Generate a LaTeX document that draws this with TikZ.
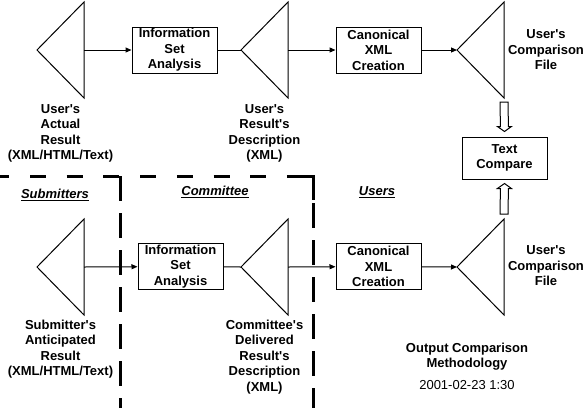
\documentclass[tikz,border=0pt]{standalone}
\usepackage{fontspec}
\setmainfont{Liberation Sans}[Ligatures=TeXOff]
\usetikzlibrary{positioning,calc,arrows.meta}
\newcommand{\diagfont}{\fontsize{13}{15.5}\selectfont}
\tikzset{proc/.style={draw,inner sep=0pt,minimum width=85pt,minimum height=46pt,align=center,font=\diagfont\bfseries},
	 lbl/.style={align=center,inner sep=0pt,font=\diagfont\bfseries},
	 region/.style={inner sep=0pt,font=\diagfont\bfseries\itshape},
	 flow/.style={-{Triangle[length=6pt,width=5pt]}},
	 hollow/.style={draw,fill=white},
	 laneh/.style={line width=3pt,dash pattern=on 16pt off 20.7pt,dash phase=6.7pt},
	 lanev/.style={line width=3pt,dash pattern=on 25pt off 12pt}
	 }
% triangle "document" symbol: apex coordinate #1, right side #1r, corners #1t, #1b
\newcommand{\doctri}[3]{\coordinate (#1) at (#2,#3);
	\coordinate (#1r) at ($(#1)+(47,0)$); \coordinate (#1t) at ($(#1)+(47,-48)$); \coordinate (#1b) at ($(#1)+(47,48)$);
	\draw (#1) -- (#1t) -- (#1b) -- cycle;}
\newcommand{\hollowarrow}[2]{\draw[hollow] ($(#1)+(-4,0)$) -- ($(#2)!5pt!(#1)+(-4,0)$) -- ($(#2)!5pt!(#1)+(-7,0)$) -- (#2)
	-- ($(#2)!5pt!(#1)+(7,0)$) -- ($(#2)!5pt!(#1)+(4,0)$) -- ($(#1)+(4,0)$) -- cycle;}

\begin{document}
\begin{tikzpicture}[x=1pt,y=-1pt,line width=1pt] % output comparison methodology
	\useasboundingbox (0,0) rectangle (588,408);
	% users' row
	\doctri{uar}{37}{50}
	\node[proc] (isa1) at (174.5,50) {Information\\Set\\Analysis};
	\doctri{urd}{241}{50}
	\node[proc] (cxc1) at (378.5,50) {Canonical\\XML\\Creation};
	\doctri{ucf1}{457}{50}
	\draw[flow] (uarr) to (isa1); \draw (isa1) to (urd);
	\draw[flow] (urdr) to (cxc1); \draw[flow] (cxc1) to (ucf1);
	\node[lbl,anchor=north] (uarl) at (60.5,104) {User's\\Actual\\Result\\(XML/HTML/Text)};
	\node[lbl,anchor=north] (urdl) at (264.5,104) {User's\\Result's\\Description\\(XML)};
	\node[lbl] (ucf1l) at (546,50) {User's\\Comparison\\File};
	% comparison
	\node[proc,minimum height=42pt] (cmp) at (504.5,158) {Text\\Compare};
	% submitters' and committee's row
	\doctri{sar}{37}{267}
	\node[proc] (isa2) at (180.5,266.5) {Information\\Set\\Analysis};
	\doctri{cdr}{241}{267}
	\node[proc] (cxc2) at (378.5,266.5) {Canonical\\XML\\Creation};
	\doctri{ucf2}{457}{267}
	\draw[flow] (sarr) to (isa2); \draw (isa2) to (cdr);
	\draw[flow] (cdrr) to (cxc2); \draw[flow] (cxc2) to (ucf2);
	\node[lbl,anchor=north] (sarl) at (60.5,319.5) {Submitter's\\Anticipated\\Result\\(XML/HTML/Text)};
	\node[lbl,anchor=north] (cdrl) at (264.5,319.5) {Committee's\\Delivered\\Result's\\Description\\(XML)};
	\node[lbl] (ucf2l) at (546,266) {User's\\Comparison\\File};
	\coordinate (ha1) at ($(ucf1b)+(0,4)$); \coordinate (ha1tip) at ($(cmp.north)+(0,-5)$);
	\coordinate (ha2) at ($(ucf2t)+(0,-5)$); \coordinate (ha2tip) at ($(cmp.south)+(0,4)$);
	\hollowarrow{ha1}{ha1tip} \hollowarrow{ha2}{ha2tip}
	% swim lanes
	\coordinate (lane0) at (0,176); \coordinate (lane1) at (313,176);
	\draw[laneh] (lane0) -- (lane1);
	\draw[line width=3pt] (287,176) -- (lane1) -- (313,200);
	\draw[lanev] (120,176) -- (120,408); \draw[lanev] (313,203) -- (313,408);
	\node[region] (subm) at (55,195) {\underline{Submitters}};
	\node[region] (comm) at (215,192) {\underline{Committee}};
	\node[region] (user) at (377,192) {\underline{Users}};
	% title
	\node[lbl,anchor=north] (title) at (467,342.5) {Output Comparison\\Methodology};
	\node[inner sep=0pt,font=\diagfont] (date) at (467,385) {2001-02-23 1:30};
\end{tikzpicture}
\end{document}
